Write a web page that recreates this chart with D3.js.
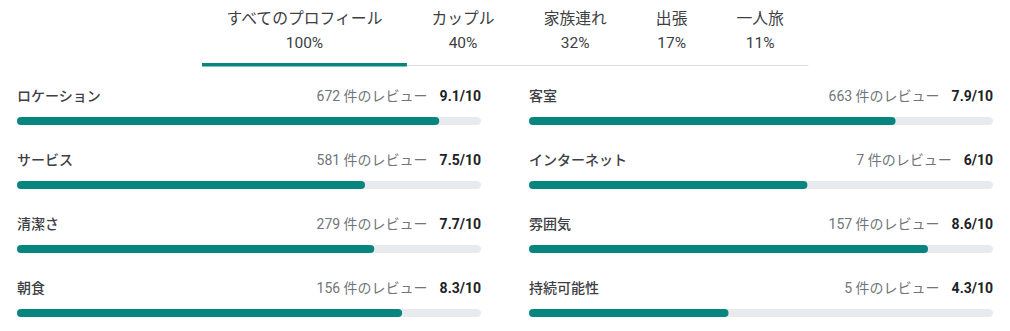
<!DOCTYPE html>
<html>
<head>
<meta charset="utf-8">
<script src="https://cdn.jsdelivr.net/npm/d3@7"></script>
<style>
  body { margin: 0; background: #fff; }
  text { font-family: Roboto, "Noto Sans CJK JP", sans-serif; }
</style>
</head>
<body>
<div id="chart"></div>
<script>
// tabs
const tabNames = ['すべてのプロフィール', 'カップル', '家族連れ', '出張', '一人旅']
const tabShares = ['100%', '40%', '32%', '17%', '11%']
const activeTab = 0

// ratings
const categories = ['ロケーション', '客室', 'サービス', 'インターネット', '清潔さ', '雰囲気', '朝食', '持続可能性']
const reviewCounts = [672, 663, 581, 7, 279, 157, 156, 5]
const scores = [9.1, 7.9, 7.5, 6, 7.7, 8.6, 8.3, 4.3]

const W = 1010, H = 331
const teal = '#08857f', track = '#e8eaed'

const svg = d3.select('#chart').append('svg')
    .attr('width', W).attr('height', H)

// ---- tab strip
const tabG = svg.append('g')
const tabPad = 24.5
let tx = 202
const tabs = tabNames.map((name, i) => {
    const g = tabG.append('g')
    const t1 = g.append('text').text(name)
        .attr('y', 24).attr('font-size', 15.8).attr('fill', '#3c4043').attr('text-anchor', 'middle')
    const t2 = g.append('text').text(tabShares[i])
        .attr('y', 48).attr('font-size', 15.5).attr('fill', '#3c4043').attr('text-anchor', 'middle')
    const w = Math.max(t1.node().getComputedTextLength(), t2.node().getComputedTextLength()) + tabPad * 2
    g.attr('transform', `translate(${tx + w / 2},0)`)
    const tab = { x0: tx, x1: tx + w }
    tx += w
    return tab
})
tabG.append('rect')
    .attr('x', tabs[0].x0).attr('y', 65)
    .attr('width', tabs[tabs.length - 1].x1 - tabs[0].x0).attr('height', 1)
    .attr('fill', '#dadce0')
tabG.append('rect')
    .attr('x', tabs[activeTab].x0).attr('y', 63)
    .attr('width', tabs[activeTab].x1 - tabs[activeTab].x0).attr('height', 3.5)
    .attr('fill', teal)

// ---- rating bars
const colX = d3.scaleBand().domain([0, 1]).range([17, 993]).paddingInner(0.09375)
const rowY = d3.scaleBand().domain(d3.range(4)).range([80, 336])
const x = d3.scaleLinear().domain([0, 10]).range([0, colX.bandwidth()])

const rows = svg.append('g').selectAll('g')
    .data(categories.map((c, i) => ({ c, n: reviewCounts[i], s: scores[i], col: i % 2, row: Math.floor(i / 2) })))
    .join('g')
    .attr('transform', d => `translate(${colX(d.col)},${rowY(d.row)})`)

rows.append('text')
    .attr('y', 21).attr('font-size', 14).attr('font-weight', 500).attr('fill', '#3c4043')
    .text(d => d.c)

rows.append('text')
    .attr('x', colX.bandwidth()).attr('y', 21).attr('text-anchor', 'end')
    .attr('font-size', 14).attr('font-weight', 700).attr('fill', '#202124')
    .text(d => `${d.s}/10`)
    .each(function (d) { d.sw = this.getComputedTextLength() })

rows.append('text')
    .attr('x', d => colX.bandwidth() - d.sw - 12).attr('y', 21).attr('text-anchor', 'end')
    .attr('font-size', 14).attr('fill', '#70757a')
    .text(d => `${d.n} 件のレビュー`)

rows.append('rect')
    .attr('y', 37).attr('height', 8).attr('rx', 4)
    .attr('width', x(10)).attr('fill', track)

rows.append('rect')
    .attr('y', 37).attr('height', 8).attr('rx', 4)
    .attr('width', d => x(d.s)).attr('fill', teal)
</script>
</body>
</html>
